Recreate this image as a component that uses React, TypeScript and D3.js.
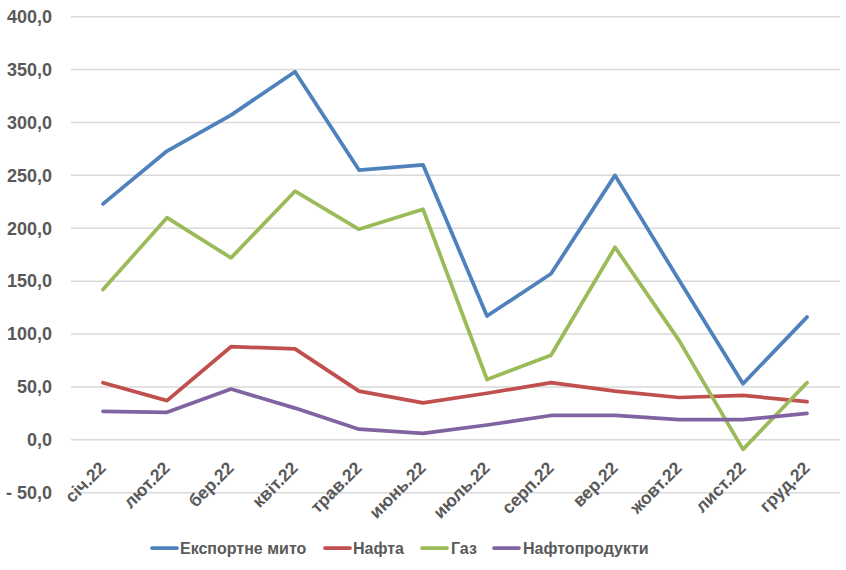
import React from "react";
import * as d3 from "d3";

const months = ["січ.22", "лют.22", "бер.22", "квіт.22", "трав.22", "июнь.22", "июль.22", "серп.22", "вер.22", "жовт.22", "лист.22", "груд.22"];
const exportDuty = [223, 273, 307, 348, 255, 260, 117, 157, 250, 151, 53, 116];
const oil = [54, 37, 88, 86, 46, 35, 44, 54, 46, 40, 42, 36];
const gas = [142, 210, 172, 235, 199, 218, 57, 80, 182, 94, -9, 54];
const oilProducts = [27, 26, 48, 30, 10, 6, 14, 23, 23, 19, 19, 25];
const yTicks = [-50, 0, 50, 100, 150, 200, 250, 300, 350, 400];
const seriesNames = ["Експортне мито", "Нафта", "Газ", "Нафтопродукти"];
const seriesColors = ["#4F81BD", "#C0504D", "#9BBB59", "#8064A2"];

const W = 846;
const H = 570;
const FONT = "'Liberation Sans', Arial, sans-serif";
const TEXT = "#595959";

export default function App() {
  const x = d3.scalePoint<string>().domain(months).range([71, 839]).padding(0.5);
  const y = d3.scaleLinear().domain([-50, 400]).range([492.7, 16.7]);
  const seriesData = [exportDuty, oil, gas, oilProducts];
  const line = d3
    .line<number>()
    .x((_, i) => x(months[i]) as number)
    .y((d) => y(d));

  const fmt = (v: number) => (v < 0 ? "- " + Math.abs(v).toFixed(1).replace(".", ",") : v.toFixed(1).replace(".", ","));

  const legendItems = [
    { lx: 152, tx: 180 },
    { lx: 325, tx: 353 },
    { lx: 422, tx: 451 },
    { lx: 494, tx: 523 },
  ];

  return (
    <svg width={W} height={H} style={{ position: "absolute", left: 0, top: 0, background: "#fff" }} fontFamily={FONT}>
      <rect x={0} y={0} width={W} height={H} fill="#fff" />
      {yTicks.map((t) => (
        <g key={t}>
          <line x1={71} x2={840} y1={y(t)} y2={y(t)} stroke="#D9D9D9" strokeWidth={1.5} />
          <text x={52} y={y(t)} dy="0.35em" textAnchor="end" fontSize={18} fontWeight="bold" fill={TEXT}>
            {fmt(t)}
          </text>
        </g>
      ))}
      {months.map((m) => (
        <text
          key={m}
          transform={`translate(${(x(m) as number) + 4},${469}) rotate(-45)`}
          textAnchor="end"
          fontSize={17.5}
          fontWeight="bold"
          fill={TEXT}
        >
          {m}
        </text>
      ))}
      {seriesData.map((s, i) => (
        <path key={i} d={line(s) as string} fill="none" stroke={seriesColors[i]} strokeWidth={3.75} strokeLinejoin="round" strokeLinecap="round" />
      ))}
      {seriesNames.map((n, i) => (
        <g key={n}>
          <line x1={legendItems[i].lx} x2={legendItems[i].lx + 25} y1={548} y2={548} stroke={seriesColors[i]} strokeWidth={3.75} strokeLinecap="round" />
          <text x={legendItems[i].tx} y={548} dy="0.35em" fontSize={16} fontWeight="bold" fill={TEXT}>
            {n}
          </text>
        </g>
      ))}
    </svg>
  );
}
